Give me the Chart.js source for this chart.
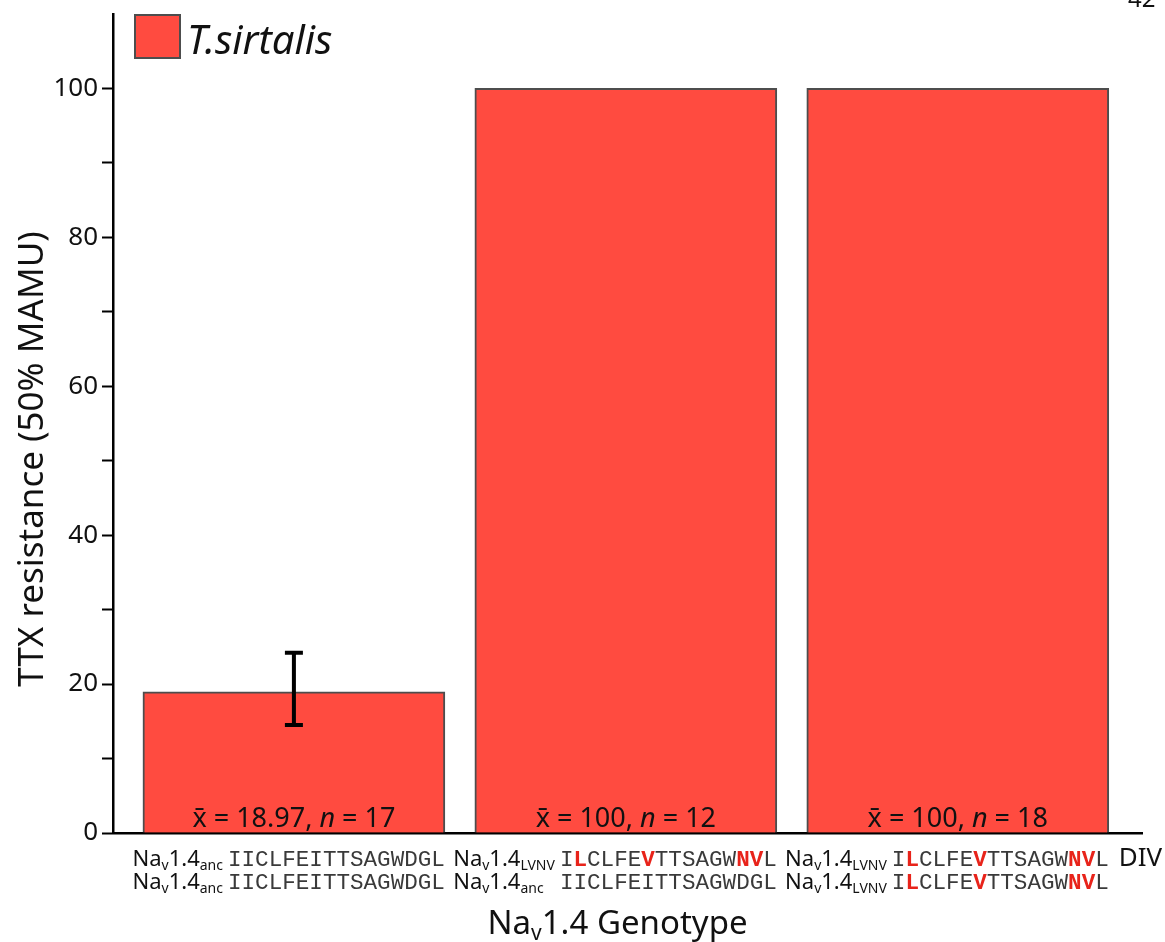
<!DOCTYPE html>
<html>
<head>
<meta charset="utf-8">
<script src="https://cdn.jsdelivr.net/npm/chart.js@4.4.1/dist/chart.umd.min.js"></script>
<style>
  html, body { margin: 0; padding: 0; background: #fff; }
  #wrap { width: 1165px; height: 942px; position: relative; }
</style>
</head>
<body>
<div id="wrap"><canvas id="c" width="1165" height="942"></canvas></div>
<script>
// ---- data ----
const seriesName = 'T.sirtalis';
const genotypePositions = [1, 2, 3];
const resistance = [18.97, 100, 100];
const sampleSizes = [17, 12, 18];
const errorLow = [14.5, null, null];
const errorHigh = [24.2, null, null];
const yTickLabels = [0, 20, 40, 60, 80, 100];
const ancestralSeq = 'IICLFEITTSAGWDGL';
const lvnvSeq = 'ILCLFEVTTSAGWNVL';
const alleleRows = [['anc', 'anc'], ['LVNV', 'anc'], ['LVNV', 'LVNV']];
const alleleSeqs = { anc: ancestralSeq, LVNV: lvnvSeq };
const domainName = 'DIV';
const pageNumber = '42';
const yTitle = 'TTX resistance (50% MAMU)';

// ---- style ----
const SANS = '"Noto Sans", "DejaVu Sans", sans-serif';
const MONO = '"Liberation Mono", "DejaVu Sans Mono", monospace';
const BAR_FILL = '#ff4b40';
const BAR_EDGE = '#4d4d4d';
const BAR_W = 302;
const SEQ_W = 217;
const INK = '#111';

function drawRuns(ctx, runs, x, y) {
  for (const r of runs) {
    ctx.font = r.font;
    ctx.fillStyle = r.color || INK;
    ctx.fillText(r.text, x, y + (r.dy || 0));
    x += ctx.measureText(r.text).width;
  }
  return x;
}
function runsWidth(ctx, runs) {
  let w = 0;
  for (const r of runs) { ctx.font = r.font; w += ctx.measureText(r.text).width; }
  return w;
}
function navRuns(tag, big, small, drop) {
  return [
    { text: 'Na', font: `${big}px ${SANS}` },
    { text: 'v', font: `${small}px ${SANS}`, dy: drop },
    { text: '1.4', font: `${big}px ${SANS}` },
    { text: tag, font: `${small}px ${SANS}`, dy: drop }
  ];
}
// monospace size chosen so a 16-residue row spans SEQ_W pixels
function monoSize(ctx) {
  ctx.font = `100px ${MONO}`;
  const w = ctx.measureText(ancestralSeq).width;
  return Math.round(100 * SEQ_W / w * 10) / 10;
}
function seqRuns(seq, size) {
  const runs = [];
  for (let i = 0; i < seq.length; i++) {
    const mutated = seq[i] !== ancestralSeq[i];
    const font = mutated ? `bold ${size}px ${MONO}` : `${size}px ${MONO}`;
    const color = mutated ? '#e8231a' : '#3a3a3a';
    const last = runs[runs.length - 1];
    if (last && last.font === font) last.text += seq[i];
    else runs.push({ text: seq[i], font, color });
  }
  return runs;
}

const annotations = {
  id: 'annotations',
  afterDatasetsDraw(chart) {
    const ctx = chart.ctx;
    const xs = chart.scales.x, ys = chart.scales.y;
    const ds = chart.data.datasets[0];
    ctx.save();
    ctx.textBaseline = 'alphabetic';
    ctx.textAlign = 'left';

    // error bars
    ctx.strokeStyle = '#000';
    ctx.lineWidth = 4;
    genotypePositions.forEach((p, i) => {
      if (errorLow[i] == null) return;
      const cx = xs.getPixelForValue(p);
      const y1 = ys.getPixelForValue(errorHigh[i]);
      const y0 = ys.getPixelForValue(errorLow[i]);
      ctx.beginPath();
      ctx.moveTo(cx, y0); ctx.lineTo(cx, y1);
      ctx.moveTo(cx - 9, y0); ctx.lineTo(cx + 9, y0);
      ctx.moveTo(cx - 9, y1); ctx.lineTo(cx + 9, y1);
      ctx.stroke();
    });

    // mean / sample size labels inside bars
    genotypePositions.forEach((p, i) => {
      const runs = [
        { text: 'x\u0304 = ' + resistance[i] + ', ', font: `27px ${SANS}` },
        { text: 'n', font: `italic 27px ${SANS}` },
        { text: ' = ' + sampleSizes[i], font: `27px ${SANS}` }
      ];
      const w = runsWidth(ctx, runs);
      drawRuns(ctx, runs, xs.getPixelForValue(p) - w / 2, ys.getPixelForValue(0) - 6);
    });

    // genotype labels under each bar
    const rowY = [866, 889];
    const ms = monoSize(ctx);
    genotypePositions.forEach((p, i) => {
      const right = xs.getPixelForValue(p) + BAR_W / 2;
      const rows = alleleRows[i];
      const labels = rows.map(t => navRuns(t, 22, 14, 4));
      const seqs = rows.map(t => seqRuns(alleleSeqs[t], ms));
      const seqW = Math.max(...seqs.map(s => runsWidth(ctx, s)));
      const labW = Math.max(...labels.map(l => runsWidth(ctx, l)));
      const seqX = right - seqW;
      const labX = seqX - 5 - labW;
      rows.forEach((t, r) => {
        drawRuns(ctx, labels[r], labX, rowY[r]);
        const end = drawRuns(ctx, seqs[r], seqX, rowY[r]);
        if (i === genotypePositions.length - 1 && r === 0) {
          drawRuns(ctx, [{ text: domainName, font: `26px ${SANS}` }], end + 10, rowY[r]);
        }
      });
    });

    // x axis title
    const xt = [
      { text: 'Na', font: `33px ${SANS}` },
      { text: 'v', font: `21px ${SANS}`, dy: 6 },
      { text: '1.4 Genotype', font: `33px ${SANS}` }
    ];
    const xtw = runsWidth(ctx, xt);
    drawRuns(ctx, xt, (chart.chartArea.left + chart.chartArea.right) / 2 - 10 - xtw / 2, 934);

    // y axis title
    ctx.save();
    ctx.translate(33, 459);
    ctx.rotate(-Math.PI / 2);
    ctx.textAlign = 'center';
    ctx.textBaseline = 'middle';
    ctx.font = `35px ${SANS}`;
    ctx.fillStyle = INK;
    ctx.fillText(yTitle, 0, 0);
    ctx.restore();

    // legend
    const lx = chart.chartArea.left + 22, ly = 15;
    ctx.fillStyle = ds.backgroundColor;
    ctx.fillRect(lx, ly, 45, 43);
    ctx.strokeStyle = ds.borderColor;
    ctx.lineWidth = 2;
    ctx.strokeRect(lx, ly, 45, 43);
    drawRuns(ctx, [{ text: ds.label, font: `italic 40px ${SANS}` }], lx + 52, ly + 39);

    // page number
    drawRuns(ctx, [{ text: pageNumber, font: `24px ${SANS}` }], 1128, 7);

    ctx.restore();
  }
};

new Chart(document.getElementById('c'), {
  type: 'bar',
  data: {
    datasets: [{
      label: seriesName,
      data: genotypePositions.map((p, i) => ({ x: p, y: resistance[i] })),
      backgroundColor: BAR_FILL,
      borderColor: BAR_EDGE,
      borderWidth: 2,
      barThickness: BAR_W,
      borderSkipped: 'bottom'
    }]
  },
  options: {
    responsive: false,
    animation: false,
    devicePixelRatio: 1,
    layout: { padding: { top: 14, right: 23, left: 0, bottom: 0 } },
    plugins: { legend: { display: false }, tooltip: { enabled: false } },
    scales: {
      x: {
        type: 'linear',
        offset: false,
        min: 0.455,
        max: 3.555,
        ticks: { display: false },
        grid: { display: false, offset: false },
        border: { display: true, color: '#000', width: 2.5 },
        afterFit(s) { s.height = 109; }
      },
      y: {
        min: 0,
        max: 110,
        ticks: {
          stepSize: 10,
          padding: 4,
          color: INK,
          font: { family: SANS, size: 26 },
          callback: v => (yTickLabels.includes(v) ? String(v) : '')
        },
        grid: {
          drawOnChartArea: false,
          drawTicks: true,
          tickLength: 11,
          tickWidth: 2,
          tickColor: c => (c.tick && c.tick.value > yTickLabels[yTickLabels.length - 1] ? 'rgba(0,0,0,0)' : '#000')
        },
        border: { display: true, color: '#000', width: 2.5 },
        afterFit(s) { s.width = 113; s.paddingTop = 0; s.paddingBottom = 0; }
      }
    }
  },
  plugins: [annotations]
});
</script>
</body>
</html>
